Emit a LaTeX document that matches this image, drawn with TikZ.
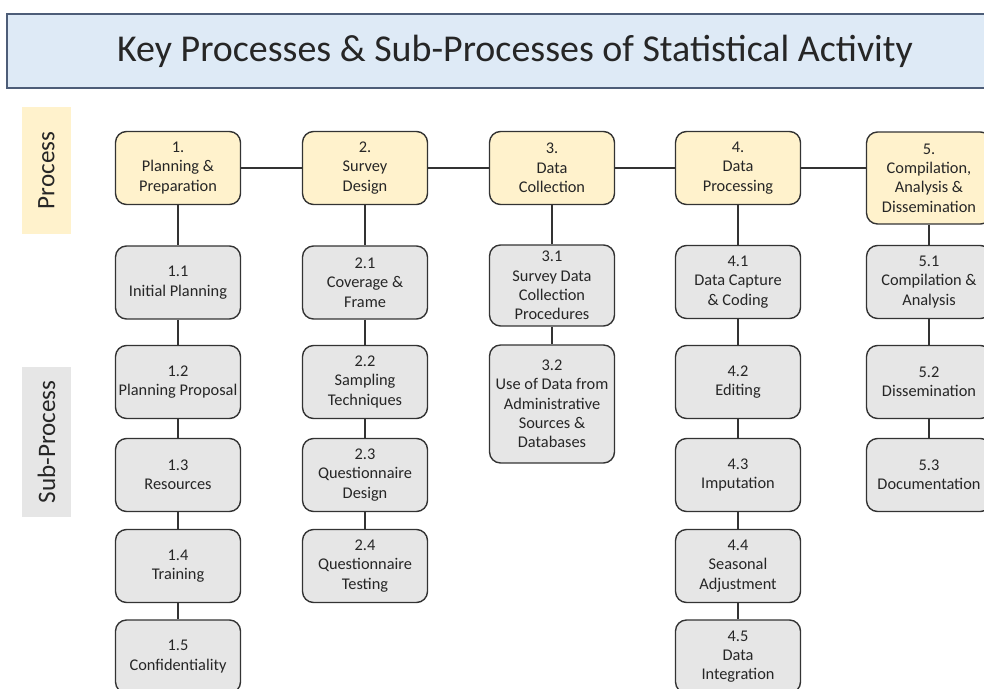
\documentclass[tikz,border=0pt]{standalone}
\usepackage{fontspec}
\setmainfont{Carlito}
\usepackage{tikz}
\definecolor{titleblue}{HTML}{DEEAF6}
\definecolor{titleedge}{HTML}{4D5D78}
\definecolor{procyellow}{HTML}{FFF2CC}
\definecolor{subgray}{HTML}{E6E6E6}
\definecolor{boxedge}{HTML}{333333}

\begin{document}
\begin{tikzpicture}[x=0.02cm,y=-0.02cm,
			every node/.style={text=black!85,align=center,inner sep=0pt},
			proc/.style={draw=boxedge,fill=procyellow,line width=0.8pt,rounded corners=0.22cm,
				minimum width=2.5cm,minimum height=1.46cm,font=\fontsize{9.3}{11}\selectfont},
			sub/.style={proc,fill=subgray},
			side/.style={rotate=90,minimum height=0.98cm,font=\fontsize{14.3}{16}\selectfont},
			link/.style={draw=boxedge,line width=0.8pt}]
			\useasboundingbox (0,0) rectangle (984,689);
			\clip (0,0) rectangle (984,689);
			
			% title
			\node[draw=titleedge,fill=titleblue,line width=1.2pt,minimum width=20.32cm,minimum height=1.48cm,
				font=\fontsize{21.6}{25}\selectfont] (title) at (515,51) {Key Processes \& Sub-Processes of Statistical Activity};
			
			\node[side,fill=procyellow,minimum width=2.54cm] (lproc) at (46.5,170.5) {Process};
			\node[side,fill=subgray,minimum width=3cm] (lsub) at (46.5,442) {Sub-Process};
			
			% processes
			\node[proc] (p1) at (178,168) {1.\\Planning \&\\Preparation};
			\node[proc] (p2) at (365,168) {2.\\Survey\\Design};
			\node[proc] (p3) at (552,168) {3.\\Data\\Collection};
			\node[proc] (p4) at (738,168) {4.\\Data\\Processing};
			\node[proc,minimum height=1.84cm] (p5) at (929,178) {5.\\Compilation,\\Analysis \&\\Dissemination};
			
			% sub-processes
			\node[sub] (s11) at (178,282.5) {1.1\\Initial Planning};
			\node[sub] (s12) at (178,382) {1.2\\Planning Proposal};
			\node[sub] (s13) at (178,475) {1.3\\Resources};
			\node[sub] (s14) at (178,566) {1.4\\Training};
			\node[sub] (s15) at (178,656.5) {1.5\\Confidentiality};
			
			\node[sub] (s21) at (365,282.5) {2.1\\Coverage \&\\Frame};
			\node[sub] (s22) at (365,382) {2.2\\Sampling\\Techniques};
			\node[sub] (s23) at (365,475) {2.3\\Questionnaire\\Design};
			\node[sub] (s24) at (365,566) {2.4\\Questionnaire\\Testing};
			
			\node[sub,minimum height=1.62cm] (s31) at (552,285.5) {3.1\\Survey Data\\Collection\\Procedures};
			\node[sub,minimum height=2.36cm] (s32) at (552,404) {3.2\\Use of Data from\\Administrative\\Sources \&\\Databases};
			
			\node[sub] (s41) at (738,282) {4.1\\Data Capture\\\& Coding};
			\node[sub] (s42) at (738,382) {4.2\\Editing};
			\node[sub] (s43) at (738,475) {4.3\\Imputation};
			\node[sub] (s44) at (738,566) {4.4\\Seasonal\\Adjustment};
			\node[sub] (s45) at (738,656.5) {4.5\\Data\\Integration};
			
			\node[sub] (s51) at (929,282) {5.1\\Compilation \&\\Analysis};
			\node[sub] (s52) at (929,382) {5.2\\Dissemination};
			\node[sub] (s53) at (929,475) {5.3\\Documentation};
			
			\draw[link] (p1.east) -- (p2.west) (p2.east) -- (p3.west) (p3.east) -- (p4.west);
			\draw[link] (p4.east) -- (p4.east -| p5.west);
			
			\draw[link] (p1) -- (s11) (s11) -- (s12) (s12) -- (s13) (s13) -- (s14) (s14) -- (s15);
			\draw[link] (p2) -- (s21) (s21) -- (s22) (s22) -- (s23) (s23) -- (s24);
			\draw[link] (p3) -- (s31) (s31) -- (s32);
			\draw[link] (p4) -- (s41) (s41) -- (s42) (s42) -- (s43) (s43) -- (s44) (s44) -- (s45);
			\draw[link] (p5) -- (s51) (s51) -- (s52) (s52) -- (s53);
		\end{tikzpicture}
\end{document}
